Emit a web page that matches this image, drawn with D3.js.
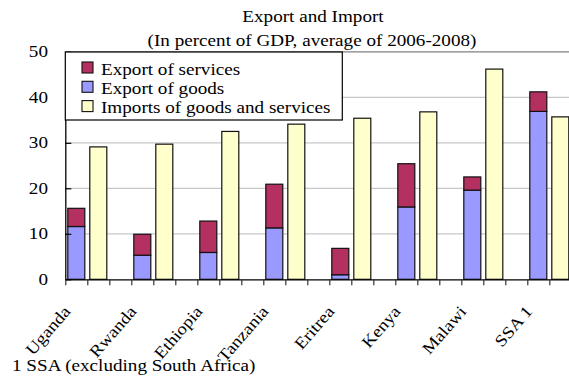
<!DOCTYPE html>
<html lang="en">
	<head>
		<meta charset="utf-8">
		<title>Export and Import</title>
		<script src="https://cdn.jsdelivr.net/npm/d3@7/dist/d3.min.js"></script>
		<style type="text/css">
			body { margin: 0; background: #fff; }
		</style>
	</head>
	<body>
		<script type="text/javascript">

			//Data (percent of GDP)
			var countries = ["Uganda", "Rwanda", "Ethiopia", "Tanzania", "Eritrea", "Kenya", "Malawi", "SSA 1"];
			var exportGoods    = [11.6, 5.3, 5.9, 11.3, 1.0, 15.9, 19.6, 36.9];
			var exportServices = [4.0, 4.6, 6.9, 9.6, 5.8, 9.5, 2.9, 4.3];
			var imports        = [29.1, 29.7, 32.5, 34.1, 35.4, 36.8, 46.2, 35.7];
			var yTicks = [0, 10, 20, 30, 40, 50];

			//Width and height
			var w = 569;
			var h = 379;
			var plotLeft = 65.3, plotTop = 51.8, plotBottom = 279.3;
			var slotW = 22;          //each country gets 3 slots: goods, imports, gap
			var stretch = 1.16;      //text in the picture is a bit wide
			var font = "Liberation Serif, Times New Roman, serif";

			var svg = d3.select("body")
						.append("svg")
						.attr("width", w)
						.attr("height", h);

			//Scales
			var xScale = d3.scaleBand()
						   .domain(countries)
						   .range([plotLeft, plotLeft + countries.length * 3 * slotW]);
			var xInner = d3.scaleBand()
						   .domain(["goods", "imports", "gap"])
						   .range([0, xScale.bandwidth()]);
			var xSlots = d3.scaleLinear()
						   .domain([0, countries.length * 3])
						   .range([plotLeft, plotLeft + countries.length * 3 * slotW]);
			var yScale = d3.scaleLinear()
						   .domain([0, 50])
						   .range([plotBottom, plotTop]);

			var barW = 17;

			//helper for stretched text
			function addText(x, y, str, anchor, size, rot) {
				var tr = "translate(" + x + "," + y + ")";
				if (rot) tr += " rotate(" + rot + ") scale(1.14,1)";
				else tr += " scale(" + stretch + ",1)";
				return svg.append("text")
					.attr("transform", tr)
					.attr("text-anchor", anchor)
					.attr("font-family", font)
					.attr("font-size", size + "px")
					.attr("fill", "#000")
					.text(str);
			}

			//Gridlines
			svg.selectAll("line.grid")
			   .data(yTicks.filter(function(d) { return d > 0 && d < 50; }))
			   .enter()
			   .append("line")
			   .attr("x1", plotLeft)
			   .attr("x2", w)
			   .attr("y1", function(d) { return yScale(d); })
			   .attr("y2", function(d) { return yScale(d); })
			   .attr("stroke", "#c8c8c8")
			   .attr("stroke-width", 1.2);

			//top border of plot area
			svg.append("line")
			   .attr("x1", plotLeft).attr("x2", w)
			   .attr("y1", yScale(50)).attr("y2", yScale(50))
			   .attr("stroke", "#808080")
			   .attr("stroke-width", 1.3);

			//Bars
			var groups = svg.selectAll("g.country")
							.data(countries)
							.enter()
							.append("g")
							.attr("transform", function(d) { return "translate(" + xScale(d) + ",0)"; });

			function drawBar(slot, lo, hi, fill) {
				groups.append("rect")
					.attr("x", function(d) { return xInner(slot) + (xInner.bandwidth() - barW) / 2; })
					.attr("y", function(d, i) { return yScale(hi(i)); })
					.attr("width", barW)
					.attr("height", function(d, i) { return yScale(lo(i)) - yScale(hi(i)); })
					.attr("fill", fill)
					.attr("stroke", "#111")
					.attr("stroke-width", 1.2);
			}
			drawBar("goods", function(i) { return 0; }, function(i) { return exportGoods[i]; }, "#9999ff");
			drawBar("goods", function(i) { return exportGoods[i]; }, function(i) { return exportGoods[i] + exportServices[i]; }, "#b33060");
			drawBar("imports", function(i) { return 0; }, function(i) { return imports[i]; }, "#ffffcc");

			//Axes
			var xAxis = d3.axisBottom(xSlots)
						  .tickValues(d3.range(countries.length * 3 + 1))
						  .tickFormat("")
						  .tickSizeInner(6)
						  .tickSizeOuter(0);
			svg.append("g")
			   .attr("transform", "translate(0," + plotBottom + ")")
			   .call(xAxis)
			   .call(function(g) {
				   g.select(".domain").attr("stroke", "#000").attr("stroke-width", 1.3);
				   g.selectAll(".tick line").attr("stroke", "#333").attr("stroke-width", 1.2);
			   });

			var yAxis = d3.axisLeft(yScale)
						  .tickValues(yTicks)
						  .tickFormat("")
						  .tickSizeInner(-6)
						  .tickSizeOuter(0);
			svg.append("g")
			   .attr("transform", "translate(" + plotLeft + ",0)")
			   .call(yAxis)
			   .call(function(g) {
				   g.select(".domain").attr("stroke", "#000").attr("stroke-width", 1.3);
				   g.selectAll(".tick line").attr("stroke", "#000").attr("stroke-width", 1.2);
			   });

			yTicks.forEach(function(t) {
				addText(48, yScale(t) + 5.5, t, "end", 16.5);
			});

			//Category labels
			countries.forEach(function(c) {
				addText(xScale(c) + 6, 312, c, "end", 16.5, -49);
			});

			//Titles
			addText(313, 22, "Export and Import", "middle", 16.5);
			addText(312, 46, "(In percent of GDP, average of 2006-2008)", "middle", 16.5);

			//Legend
			var legendItems = [
				{ name: "Export of services", color: "#b33060" },
				{ name: "Export of goods", color: "#9999ff" },
				{ name: "Imports of goods and services", color: "#ffffcc" }
			];
			svg.append("rect")
			   .attr("x", plotLeft)
			   .attr("y", 52)
			   .attr("width", 277)
			   .attr("height", 68)
			   .attr("fill", "#fff")
			   .attr("stroke", "#000")
			   .attr("stroke-width", 1.2);
			legendItems.forEach(function(d, i) {
				var by = 74.5 + i * 19.3;
				svg.append("rect")
				   .attr("x", 82)
				   .attr("y", by - 12.5)
				   .attr("width", 11)
				   .attr("height", 11)
				   .attr("fill", d.color)
				   .attr("stroke", "#111")
				   .attr("stroke-width", 1.1);
				addText(101, by, d.name, "start", 16.5);
			});

			//Footnote
			addText(12, 371, "1 SSA (excluding South Africa)", "start", 16.5);

		</script>
	</body>
</html>
